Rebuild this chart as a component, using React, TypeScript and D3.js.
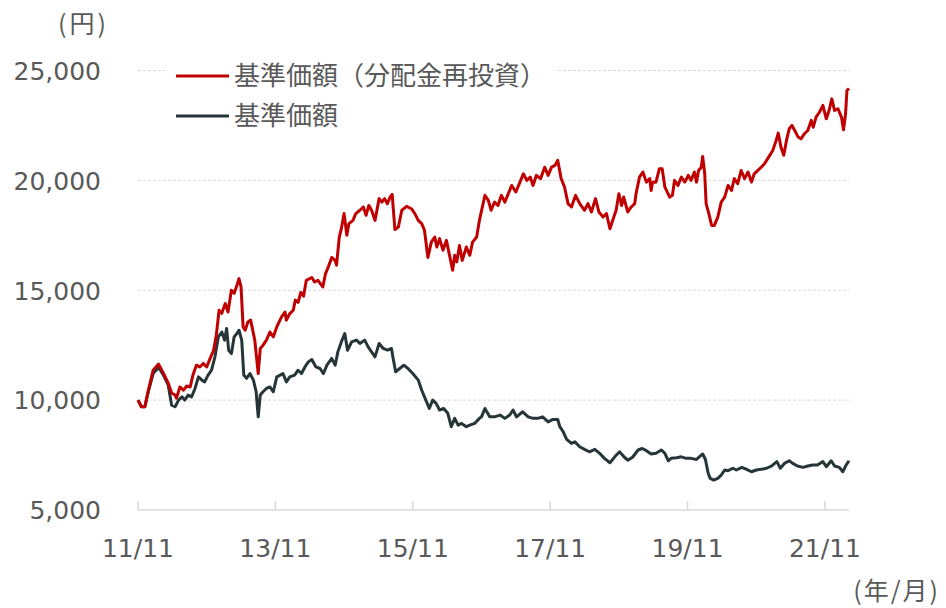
import React from "react";
import * as d3 from "d3";

// [decimal year, value]
const navReinvested: [number, number][] = [
  [2011.83,10000],[2011.88,9700],[2011.93,9700],[2011.98,10450],[2012.05,11360],[2012.13,11640],[2012.20,11230],[2012.27,10770],[2012.32,10320],[2012.37,10230],[2012.39,10090],[2012.44,10600],[2012.49,10450],[2012.54,10640],[2012.59,10600],[2012.63,11140],[2012.68,11590],[2012.73,11510],[2012.78,11670],[2012.83,11510],[2012.88,11900],[2012.93,12270],[2012.97,12950],[2013.01,14090],[2013.05,13950],[2013.10,14400],[2013.14,14010],[2013.19,15000],[2013.23,14860],[2013.27,15230],[2013.30,15530],[2013.33,15150],[2013.36,13330],[2013.39,13180],[2013.43,13560],[2013.47,13640],[2013.50,13180],[2013.53,12730],[2013.58,11210],[2013.61,12350],[2013.65,12500],[2013.70,12730],[2013.75,13100],[2013.80,12880],[2013.85,13330],[2013.92,13790],[2013.97,14010],[2013.99,13640],[2014.04,13940],[2014.09,14090],[2014.12,14550],[2014.16,14450],[2014.20,14900],[2014.24,14730],[2014.28,15450],[2014.36,15580],[2014.40,15380],[2014.45,15450],[2014.52,15150],[2014.56,15760],[2014.60,16060],[2014.65,16490],[2014.70,16360],[2014.72,16140],[2014.76,17420],[2014.79,17800],[2014.83,18490],[2014.87,17500],[2014.90,18030],[2014.96,18180],[2015.00,18490],[2015.06,18640],[2015.11,18790],[2015.15,18410],[2015.19,18860],[2015.23,18640],[2015.28,18180],[2015.34,19170],[2015.38,19010],[2015.42,19170],[2015.46,18940],[2015.50,19240],[2015.53,19360],[2015.57,17760],[2015.62,17880],[2015.67,18640],[2015.74,18820],[2015.81,18710],[2015.86,18490],[2015.91,18180],[2015.96,18030],[2016.00,17730],[2016.05,16490],[2016.10,17190],[2016.15,17420],[2016.18,16970],[2016.22,17350],[2016.27,16820],[2016.32,17270],[2016.37,16510],[2016.41,15910],[2016.44,16590],[2016.47,16290],[2016.51,17040],[2016.55,16360],[2016.61,16970],[2016.66,16590],[2016.70,17190],[2016.76,17420],[2016.80,18180],[2016.88,19320],[2016.93,19090],[2016.97,18640],[2017.02,19010],[2017.07,18860],[2017.12,19320],[2017.17,19010],[2017.22,19390],[2017.27,19770],[2017.33,19470],[2017.39,19920],[2017.44,20300],[2017.49,20000],[2017.54,20150],[2017.58,19770],[2017.63,20230],[2017.69,20080],[2017.75,20600],[2017.80,20230],[2017.85,20600],[2017.90,20680],[2017.94,20910],[2017.99,20080],[2018.04,19690],[2018.09,18940],[2018.14,18790],[2018.20,19320],[2018.26,18940],[2018.33,18640],[2018.38,18940],[2018.43,18560],[2018.49,19170],[2018.54,18560],[2018.60,18330],[2018.65,18490],[2018.70,17800],[2018.74,18180],[2018.79,18640],[2018.83,19390],[2018.87,18860],[2018.90,19240],[2018.96,18560],[2019.01,18790],[2019.06,18940],[2019.08,19390],[2019.13,20150],[2019.18,20380],[2019.23,19920],[2019.28,20080],[2019.30,19540],[2019.32,19920],[2019.37,19920],[2019.42,20530],[2019.46,20530],[2019.50,19690],[2019.57,19240],[2019.61,19320],[2019.64,20000],[2019.69,19770],[2019.74,20150],[2019.79,19920],[2019.84,20230],[2019.88,20000],[2019.93,20380],[2019.96,19920],[2019.99,20450],[2020.03,20600],[2020.05,21090],[2020.08,20300],[2020.10,18940],[2020.14,18490],[2020.18,17950],[2020.22,17950],[2020.27,18330],[2020.32,19010],[2020.37,19240],[2020.42,19770],[2020.47,19540],[2020.51,20080],[2020.56,19850],[2020.61,20450],[2020.66,20080],[2020.71,20380],[2020.76,19920],[2020.80,20300],[2020.88,20530],[2020.95,20760],[2021.01,21060],[2021.07,21360],[2021.12,21820],[2021.15,22150],[2021.19,21510],[2021.23,21140],[2021.27,21820],[2021.31,22350],[2021.35,22500],[2021.39,22270],[2021.44,21970],[2021.48,21890],[2021.53,22120],[2021.58,22270],[2021.63,22730],[2021.66,22420],[2021.70,22880],[2021.75,23100],[2021.80,23410],[2021.85,22800],[2021.89,23180],[2021.93,23710],[2021.97,23180],[2022.02,23260],[2022.07,22880],[2022.10,22300],[2022.13,23030],[2022.15,24090],[2022.18,24180]
];

const nav: [number, number][] = [
  [2011.83,10000],[2011.88,9700],[2011.93,9700],[2011.98,10380],[2012.05,11210],[2012.13,11490],[2012.20,11140],[2012.27,10680],[2012.32,9770],[2012.37,9700],[2012.42,10000],[2012.47,10150],[2012.51,10000],[2012.56,10230],[2012.61,10150],[2012.66,10530],[2012.71,11060],[2012.76,10910],[2012.80,10830],[2012.85,11140],[2012.90,11360],[2012.95,11970],[2013.00,12880],[2013.05,13100],[2013.09,12730],[2013.12,13260],[2013.15,12270],[2013.19,12120],[2013.23,12880],[2013.27,13030],[2013.30,13180],[2013.34,12730],[2013.37,11140],[2013.41,10990],[2013.46,11210],[2013.51,10910],[2013.55,10380],[2013.58,9240],[2013.61,10230],[2013.65,10380],[2013.70,10530],[2013.75,10600],[2013.80,10380],[2013.85,11060],[2013.90,11140],[2013.94,11210],[2013.99,10830],[2014.04,11060],[2014.11,11140],[2014.16,11360],[2014.21,11210],[2014.26,11510],[2014.31,11740],[2014.36,11850],[2014.42,11510],[2014.48,11440],[2014.53,11210],[2014.58,11590],[2014.65,11900],[2014.70,11590],[2014.74,12200],[2014.79,12650],[2014.84,13030],[2014.88,12270],[2014.94,12650],[2015.01,12730],[2015.06,12580],[2015.13,12730],[2015.18,12420],[2015.23,12200],[2015.28,11970],[2015.34,12580],[2015.40,12350],[2015.46,12270],[2015.52,12350],[2015.54,11970],[2015.58,11290],[2015.64,11440],[2015.70,11590],[2015.76,11440],[2015.83,11210],[2015.91,10910],[2015.96,10450],[2016.02,10000],[2016.07,9620],[2016.12,10000],[2016.17,9850],[2016.22,9550],[2016.28,9620],[2016.34,9400],[2016.39,8790],[2016.44,9170],[2016.49,8860],[2016.54,8940],[2016.61,8790],[2016.66,8860],[2016.73,8940],[2016.80,9170],[2016.83,9240],[2016.88,9620],[2016.95,9240],[2017.02,9240],[2017.10,9320],[2017.17,9170],[2017.24,9320],[2017.29,9550],[2017.34,9240],[2017.43,9470],[2017.51,9240],[2017.58,9170],[2017.65,9170],[2017.72,9240],[2017.80,9010],[2017.87,9120],[2017.94,9120],[2017.97,8790],[2018.02,8560],[2018.07,8210],[2018.14,8030],[2018.19,8100],[2018.26,7880],[2018.33,7760],[2018.40,7650],[2018.48,7760],[2018.55,7580],[2018.62,7350],[2018.70,7150],[2018.77,7420],[2018.84,7650],[2018.91,7400],[2018.96,7270],[2019.03,7400],[2019.11,7730],[2019.17,7800],[2019.23,7700],[2019.30,7550],[2019.37,7580],[2019.45,7730],[2019.50,7580],[2019.55,7240],[2019.59,7350],[2019.67,7380],[2019.74,7420],[2019.81,7350],[2019.88,7350],[2019.96,7300],[2020.00,7420],[2020.05,7550],[2020.09,7300],[2020.13,6670],[2020.16,6440],[2020.21,6360],[2020.27,6440],[2020.32,6590],[2020.37,6820],[2020.42,6790],[2020.49,6900],[2020.54,6820],[2020.62,6940],[2020.69,6850],[2020.76,6740],[2020.83,6820],[2020.90,6850],[2020.98,6900],[2021.05,7000],[2021.13,7200],[2021.18,6900],[2021.24,7120],[2021.31,7240],[2021.36,7120],[2021.43,7000],[2021.51,6940],[2021.58,7000],[2021.65,7050],[2021.72,7050],[2021.80,7200],[2021.85,6970],[2021.92,7240],[2021.97,7000],[2022.04,6940],[2022.09,6740],[2022.13,7000],[2022.18,7240]
];

const xTickYears = [2011.83, 2013.83, 2015.83, 2017.83, 2019.83, 2021.83];
const xTickLabels = ["11/11", "13/11", "15/11", "17/11", "19/11", "21/11"];
const yTicks = [5000, 10000, 15000, 20000, 25000];
const seriesNames = ["基準価額（分配金再投資）", "基準価額"];
const seriesColors = ["#C00000", "#253538"];

const W = 946, H = 608;
const numFont = "'DejaVu Sans', Verdana, sans-serif";
const cjkFont = "'Noto Sans CJK JP', 'DejaVu Sans', sans-serif";
const textColor = "#595959";

export default function App() {
  const x = d3.scaleLinear().domain([2011.83, 2022.18]).range([138, 849]);
  const y = d3.scaleLinear().domain([5000, 25000]).range([510, 70.5]);
  const line = d3.line<[number, number]>().x(d => x(d[0])).y(d => y(d[1]));
  const fmt = d3.format(",");
  return (
    <svg width={W} height={H} style={{ position: "absolute", left: 0, top: 0, background: "#fff" }}>
      {yTicks.filter(v => v > 5000).map(v => (
        <line key={v} x1={x(2011.83)} x2={x(2022.18)} y1={y(v)} y2={y(v)} stroke="#d9d9d9" strokeWidth={1} strokeDasharray="3 2" />
      ))}
      <line x1={x(2011.83)} x2={x(2022.18)} y1={y(5000)} y2={y(5000)} stroke="#d9d9d9" strokeWidth={1.5} />
      {xTickYears.map((t, i) => (
        <g key={t}>
          <line x1={x(t)} x2={x(t)} y1={y(5000)} y2={y(5000) - 9} stroke="#d9d9d9" strokeWidth={1.5} />
          <text x={x(t)} y={557} textAnchor="middle" fontFamily={numFont} fontSize={25} fill={textColor}>{xTickLabels[i]}</text>
        </g>
      ))}
      {yTicks.map(v => (
        <text key={v} x={101} y={y(v)} dy="0.37em" textAnchor="end" fontFamily={numFont} fontSize={25} fill={textColor}>{fmt(v)}</text>
      ))}
      <text x={58} y={33} fontFamily={cjkFont} fontSize={25} letterSpacing={3} fill={textColor}>(円)</text>
      <text x={940} y={600} textAnchor="end" fontFamily={cjkFont} fontSize={25} letterSpacing={2} fill={textColor}>(年/月)</text>
      <path d={line(nav) || ""} fill="none" stroke={seriesColors[1]} strokeWidth={3} strokeLinejoin="round" />
      <path d={line(navReinvested) || ""} fill="none" stroke={seriesColors[0]} strokeWidth={3} strokeLinejoin="round" />
      <rect x={165} y={60} width={390} height={72} fill="#fff" />
      {seriesNames.map((name, i) => (
        <g key={name}>
          <line x1={176} x2={229} y1={76 + i * 40} y2={76 + i * 40} stroke={seriesColors[i]} strokeWidth={3} />
          <text x={234} y={76 + i * 40} dy="0.36em" fontFamily={cjkFont} fontSize={26} fill={textColor}>{name}</text>
        </g>
      ))}
    </svg>
  );
}
